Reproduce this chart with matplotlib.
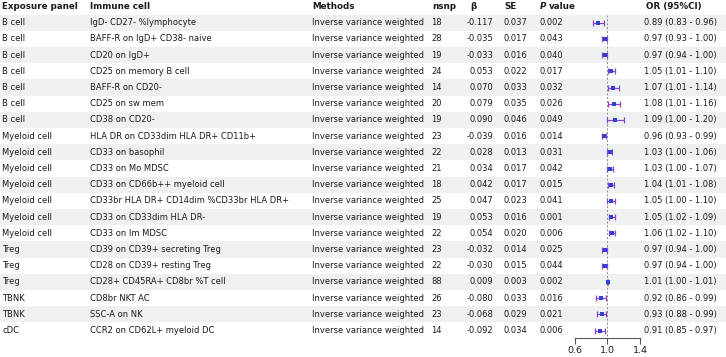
import numpy as np
import matplotlib
matplotlib.use('Agg')
import matplotlib.pyplot as plt

# table data
panels = ['B cell'] * 7 + ['Myeloid cell'] * 7 + ['Treg'] * 3 + ['TBNK'] * 2 + ['cDC']
cells = [
    'IgD- CD27- %lymphocyte',
    'BAFF-R on IgD+ CD38- naive',
    'CD20 on IgD+',
    'CD25 on memory B cell',
    'BAFF-R on CD20-',
    'CD25 on sw mem',
    'CD38 on CD20-',
    'HLA DR on CD33dim HLA DR+ CD11b+',
    'CD33 on basophil',
    'CD33 on Mo MDSC',
    'CD33 on CD66b++ myeloid cell',
    'CD33br HLA DR+ CD14dim %CD33br HLA DR+',
    'CD33 on CD33dim HLA DR-',
    'CD33 on Im MDSC',
    'CD39 on CD39+ secreting Treg',
    'CD28 on CD39+ resting Treg',
    'CD28+ CD45RA+ CD8br %T cell',
    'CD8br NKT AC',
    'SSC-A on NK',
    'CCR2 on CD62L+ myeloid DC',
]
methods = ['Inverse variance weighted'] * 20
nsnp = [18, 28, 19, 24, 14, 20, 19, 23, 22, 21, 18, 25, 19, 22, 23, 22, 88, 26, 23, 14]
beta = [-0.117, -0.035, -0.033, 0.053, 0.070, 0.079, 0.090, -0.039, 0.028, 0.034,
        0.042, 0.047, 0.053, 0.054, -0.032, -0.030, 0.009, -0.080, -0.068, -0.092]
se = [0.037, 0.017, 0.016, 0.022, 0.033, 0.035, 0.046, 0.016, 0.013, 0.017,
      0.017, 0.023, 0.016, 0.020, 0.014, 0.015, 0.003, 0.033, 0.029, 0.034]
pval = [0.002, 0.043, 0.040, 0.017, 0.032, 0.026, 0.049, 0.014, 0.031, 0.042,
        0.015, 0.041, 0.001, 0.006, 0.025, 0.044, 0.002, 0.016, 0.021, 0.006]
odds = [0.89, 0.97, 0.97, 1.05, 1.07, 1.08, 1.09, 0.96, 1.03, 1.03,
        1.04, 1.05, 1.05, 1.06, 0.97, 0.97, 1.01, 0.92, 0.93, 0.91]
ci_lo = [0.83, 0.93, 0.94, 1.01, 1.01, 1.01, 1.00, 0.93, 1.00, 1.00,
         1.01, 1.00, 1.02, 1.02, 0.94, 0.94, 1.00, 0.86, 0.88, 0.85]
ci_hi = [0.96, 1.00, 1.00, 1.10, 1.14, 1.16, 1.20, 0.99, 1.06, 1.07,
         1.08, 1.10, 1.09, 1.10, 1.00, 1.00, 1.01, 0.99, 0.99, 0.97]
xticks = [0.6, 1.0, 1.4]

W, H = 726, 357
ROW0, STEP = 6.5, 16.2          # pixel centre of header row, row height
def row_of(px):
    return (px - ROW0) / STEP

txt = '#1a1a1a'
fs = 6.05

fig = plt.figure(figsize=(W / 100, H / 100), dpi=100)

# background / table axes (x in pixels, y in rows)
tab = fig.add_axes([0, 0, 1, 1])
tab.set_xlim(0, W)
tab.set_ylim(row_of(H), row_of(0))
tab.axis('off')

n = len(cells)
rows = np.arange(1, n + 1)
for r in rows:
    if r % 2 == 1:
        tab.axhspan(r - 0.5, r + 0.5, color='#eff1f1', lw=0, zorder=0)

# header
hdr = dict(fontsize=fs + 0.3, fontweight='bold', va='center', color=txt)
tab.text(2.5, 0, 'Exposure panel', **hdr)
tab.text(90, 0, 'Immune cell', **hdr)
tab.text(312, 0, 'Methods', **hdr)
tab.text(432, 0, 'nsnp', **hdr)
tab.text(470, 0, 'β', **hdr)
tab.text(504, 0, 'SE', **hdr)
tab.text(540, 0, 'P', fontstyle='italic', **hdr)
tab.text(548.5, 0, 'value', **hdr)
tab.text(645.5, 0, 'OR (95%CI)', **hdr)

body = dict(fontsize=fs, va='center', color=txt)
for i, r in enumerate(rows):
    tab.text(2.5, r, panels[i], **body)
    tab.text(90, r, cells[i], **body)
    tab.text(311.5, r, methods[i], **body)
    tab.text(431, r, str(nsnp[i]), **body)
    tab.text(493, r, f'{beta[i]:.3f}', ha='right', **body)
    tab.text(504, r, f'{se[i]:.3f}', **body)
    tab.text(540, r, f'{pval[i]:.3f}', **body)
    tab.text(644, r, f'{odds[i]:.2f} ({ci_lo[i]:.2f} - {ci_hi[i]:.2f})', **body)

# forest plot axes
x0, x1, ybot = 574.5, 640, 338
fax = fig.add_axes([x0 / W, (H - ybot) / H, (x1 - x0) / W, ybot / H])
fax.set_facecolor('none')
fax.set_xlim(0.6, 1.4)
fax.set_ylim(row_of(ybot), row_of(0))
for s in ['left', 'right', 'top']:
    fax.spines[s].set_visible(False)
fax.spines['bottom'].set_color('#555555')
fax.spines['bottom'].set_linewidth(0.8)
fax.set_yticks([])
fax.set_xticks(xticks)
fax.set_xticklabels([f'{t:.1f}' for t in xticks])
fax.tick_params(axis='x', length=4, width=0.8, color='#555555', labelsize=6.8,
                labelcolor=txt, pad=2)

fax.vlines(1.0, 0.5, row_of(ybot), colors='#888888', linestyles=(0, (2, 2)), lw=0.7)
odds_a = np.array(odds)
xerr = [odds_a - np.array(ci_lo), np.array(ci_hi) - odds_a]
fax.errorbar(odds_a, rows, xerr=xerr, fmt='none', ecolor='#8b46c8', elinewidth=0.9,
             capsize=2.0, capthick=0.9)
fax.plot(odds_a, rows, 's', color='#2f3fd8', ms=2.2, mew=0)

fig.savefig('out.png', dpi=100)
